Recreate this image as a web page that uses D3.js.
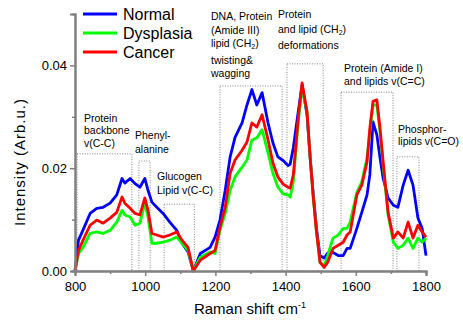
<!DOCTYPE html>
<html>
<head>
<meta charset="utf-8">
<script src="https://cdn.jsdelivr.net/npm/d3@7"></script>
<style>
  body { margin: 0; background: #fff; }
  text { font-family: Arial, "Liberation Sans", sans-serif; }
</style>
</head>
<body>
<div id="chart-area"></div>
<script>

// Data
var wavenumbers = [800, 810, 823, 843, 862, 880, 900, 919, 934, 942, 957, 971, 985, 999, 1008, 1019, 1033, 1051, 1070, 1090,
    1105, 1122, 1137, 1157, 1185, 1199, 1213, 1228, 1242, 1256, 1276, 1290, 1304, 1318, 1333, 1350, 1364, 1378, 1393, 1407,
    1413, 1422, 1436, 1447, 1461, 1470, 1479, 1488, 1498, 1510, 1520, 1535, 1550, 1564, 1575, 1584, 1603, 1617, 1632, 1640,
    1649, 1660, 1669, 1678, 1692, 1707, 1720, 1735, 1749, 1763, 1777, 1789, 1800];

var normal = [0, 0.006, 0.008, 0.0112, 0.0122, 0.0124, 0.0132, 0.0148, 0.018, 0.0171, 0.018, 0.017, 0.0163, 0.018, 0.0157, 0.0134, 0.0124, 0.0112, 0.0095, 0.0079,
    0.0054, 0.0037, 0, 0.0034, 0.0046, 0.0066, 0.0099, 0.0157, 0.0222, 0.026, 0.0288, 0.0323, 0.0353, 0.0323, 0.0347, 0.0288, 0.0249, 0.0222, 0.0215, 0.0205,
    0.0208, 0.024, 0.031, 0.0362, 0.0304, 0.022, 0.0148, 0.0083, 0.003, 0.0025, 0.0035, 0.0036, 0.003, 0.003, 0.0044, 0.0044, 0.0083, 0.0114, 0.0148, 0.0187,
    0.029, 0.0265, 0.022, 0.018, 0.0142, 0.0128, 0.0124, 0.0167, 0.0196, 0.0167, 0.0103, 0.0083, 0.003];

var dysplasia = [0, 0.0034, 0.0046, 0.0073, 0.0076, 0.0073, 0.0079, 0.0095, 0.0118, 0.0109, 0.0105, 0.0089, 0.0093, 0.0132, 0.0105, 0.0054, 0.0054, 0.0056, 0.006, 0.0066,
    0.0054, 0.004, 0.0001, 0.0027, 0.0037, 0.0034, 0.0079, 0.0112, 0.0157, 0.0183, 0.0202, 0.0216, 0.0255, 0.0259, 0.0275, 0.023, 0.019, 0.0163, 0.015, 0.0148,
    0.0144, 0.0173, 0.029, 0.0357, 0.031, 0.022, 0.0142, 0.0076, 0.0017, 0.001, 0.003, 0.0064, 0.007, 0.0083, 0.0083, 0.0095, 0.0153, 0.0173, 0.022, 0.027,
    0.0323, 0.0323, 0.027, 0.0206, 0.0109, 0.0056, 0.0044, 0.005, 0.0064, 0.0044, 0.0064, 0.0056, 0.0064];

var cancer = [0, 0.004, 0.006, 0.0089, 0.0099, 0.0093, 0.0103, 0.0114, 0.0144, 0.0132, 0.0122, 0.0112, 0.0109, 0.0142, 0.0118, 0.0073, 0.007, 0.0066, 0.007, 0.0076,
    0.006, 0.0046, 0, 0.0021, 0.0034, 0.004, 0.0085, 0.0124, 0.019, 0.0216, 0.0235, 0.0251, 0.0288, 0.028, 0.0304, 0.0255, 0.021, 0.0183, 0.0169, 0.0163,
    0.0161, 0.0187, 0.0298, 0.0366, 0.031, 0.022, 0.0142, 0.0076, 0.0017, 0.0007, 0.0017, 0.0044, 0.005, 0.0056, 0.007, 0.0076, 0.0148, 0.0167, 0.0212, 0.0278,
    0.033, 0.0333, 0.0278, 0.0212, 0.0114, 0.0064, 0.0076, 0.0064, 0.0095, 0.0064, 0.0089, 0.0076, 0.0066];

var seriesNames = ["Normal", "Dysplasia", "Cancer"];
var seriesValues = [normal, dysplasia, cancer];
var seriesColors = ["#0000ff", "#00ff00", "#ff0000"];

var xTicks = [800, 1000, 1200, 1400, 1600, 1800];
var xMinorTicks = [900, 1100, 1300, 1500, 1700];
var yTicks = [0, 0.02, 0.04];
var yMinorTicks = [0.01, 0.03];

// band boxes: [from, to, top]
var bandBoxes = [
    [806, 962, 0.0228],
    [982, 1014, 0.0214],
    [1054, 1140, 0.0130],
    [1213, 1390, 0.0360],
    [1404, 1507, 0.0403],
    [1558, 1706, 0.0348],
    [1717, 1780, 0.0222]
];

var margin = { left: 75, right: 37, top: 14, bottom: 53 };
var width = 463 - margin.left - margin.right,
    height = 324 - margin.top - margin.bottom;

var svg = d3.select("#chart-area")
    .append("svg")
        .attr("width", 463)
        .attr("height", 324);

var g = svg.append("g")
    .attr("transform", "translate(" + margin.left + "," + margin.top + ")");

// Scales
var x = d3.scaleLinear()
    .domain([800, 1800])
    .range([0, width]);
var y = d3.scaleLinear()
    .domain([0, 0.05])
    .range([height, 0]);

// Boxes
g.selectAll("rect.band")
    .data(bandBoxes)
    .enter().append("rect")
    .attr("class", "band")
    .attr("x", function(d){ return x(d[0]); })
    .attr("y", function(d){ return y(d[2]); })
    .attr("width", function(d){ return x(d[1]) - x(d[0]); })
    .attr("height", function(d){ return y(0) - y(d[2]); })
    .attr("fill", "none")
    .attr("stroke", "#666")
    .attr("stroke-width", 0.8)
    .attr("stroke-dasharray", "1,1.5");

// Lines
var line = d3.line()
    .x(function(d, i){ return x(wavenumbers[i]); })
    .y(function(d){ return y(d); });

seriesValues.forEach(function(vals, i){
    g.append("path")
        .datum(vals)
        .attr("fill", "none")
        .attr("stroke", seriesColors[i])
        .attr("stroke-width", 2.8)
        .attr("stroke-linejoin", "round")
        .attr("d", line);
});

// Axes
var axisColor = "#808080";
g.append("g")
    .attr("transform", "translate(0," + height + ")")
    .call(d3.axisBottom(x).tickValues(xTicks).tickSize(5).tickPadding(6).tickFormat(d3.format("d")));
g.append("g")
    .attr("transform", "translate(0," + height + ")")
    .call(d3.axisBottom(x).tickValues(xMinorTicks).tickSize(3).tickFormat(""));

g.append("g")
    .call(d3.axisLeft(y).tickValues(yTicks).tickSize(5).tickPadding(3).tickFormat(d3.format(".2f")));
g.append("g")
    .call(d3.axisLeft(y).tickValues(yMinorTicks).tickSize(3).tickFormat(""));

g.selectAll(".domain").attr("stroke", axisColor).attr("stroke-width", 2);
g.selectAll(".tick line").attr("stroke", axisColor).attr("stroke-width", 1.5);
g.selectAll(".tick text")
    .attr("fill", "#000")
    .attr("font-size", "13px")
    .attr("font-family", "Arial, 'Liberation Sans', sans-serif");

// Axis labels
var xLabel = svg.append("text")
    .attr("x", 250)
    .attr("y", 314)
    .attr("font-size", "15px")
    .attr("text-anchor", "middle");
xLabel.append("tspan").text("Raman  shift  cm");
xLabel.append("tspan").attr("dy", -6).attr("font-size", "9px").text("-1");

svg.append("text")
    .attr("transform", "rotate(-90)")
    .attr("x", -162)
    .attr("y", 25)
    .attr("font-size", "15px")
    .attr("letter-spacing", "1px")
    .attr("text-anchor", "middle")
    .text("Intensity (Arb.u.)");

// Legend
var legend = svg.append("g")
    .attr("transform", "translate(83,14)");

seriesNames.forEach(function(name, i){
    var row = legend.append("g")
        .attr("transform", "translate(0," + (i * 19) + ")");
    row.append("line")
        .attr("x1", 0).attr("x2", 34)
        .attr("y1", 0).attr("y2", 0)
        .attr("stroke", seriesColors[i])
        .attr("stroke-width", 3);
    row.append("text")
        .attr("x", 40)
        .attr("y", 5.5)
        .attr("font-size", "16px")
        .text(name);
});

// Annotations: each line is a list of [text, isSubscript]
var notes = [
    { x: 84, y: 121.5, dy: 12.6, lines: [[["Protein"]], [["backbone"]], [["v(C-C)"]]] },
    { x: 135, y: 139, dy: 14, lines: [[["Phenyl-"]], [["alanine"]]] },
    { x: 157, y: 180, dy: 14, lines: [[["Glucogen"]], [["Lipid v(C-C)"]]] },
    { x: 211, y: 20, dy: 13.5, lines: [[["DNA, Protein"]], [["(Amide III)"]], [["lipid (CH"], ["2", true], [")"]]] },
    { x: 211, y: 63.5, dy: 13, lines: [[["twisting&"]], [["wagging"]]] },
    { x: 278, y: 18, dy: 14.5, lines: [[["Protein"]], [["and lipid (CH"], ["2", true], [")"]]] },
    { x: 278, y: 48.5, dy: 14, lines: [[["deformations"]]] },
    { x: 344, y: 72, dy: 13, lines: [[["Protein (Amide I)"]], [["and lipids v(C=C)"]]] },
    { x: 398, y: 133, dy: 11.5, lines: [[["Phosphor-"]], [["lipids v(C=O)"]]] }
];

notes.forEach(function(n){
    n.lines.forEach(function(parts, j){
        var t = svg.append("text")
            .attr("x", n.x)
            .attr("y", n.y + j * n.dy)
            .attr("font-size", "10.5px");
        parts.forEach(function(p){
            var s = t.append("tspan").text(p[0]);
            if (p[1]) {
                s.attr("font-size", "7px").attr("dy", 2);
            } else if (t.selectAll("tspan").size() > 1) {
                s.attr("dy", -2);
            }
        });
    });
});

</script>
</body>
</html>
